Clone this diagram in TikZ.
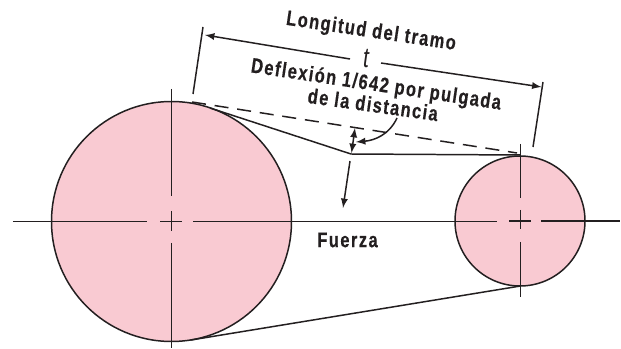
\documentclass[tikz,border=0pt]{standalone}
\usepackage{fontspec}
\setmainfont[FakeStretch=0.78,LetterSpace=7,BoldFeatures={FakeBold=0.4}]{Liberation Sans}
\newfontfamily\tfont[FakeStretch=0.75]{Liberation Sans}
\definecolor{polea}{HTML}{F9CAD2}
\definecolor{tinta}{HTML}{231F20}
\tikzset{
	linea/.style={line width=0.85pt,color=tinta},
	rotulo/.style={text=tinta,font=\bfseries\fontsize{12}{13}\selectfont,inner sep=0pt}
}

\begin{document}
\begin{tikzpicture}
	\useasboundingbox (0,0) rectangle (12.42,6.96);
	
	% poleas
	\node[shape=circle,linea,draw,fill=polea,inner sep=0pt,minimum size=4.8cm] (grande) at (3.43, 2.53) {};
	\node[shape=circle,linea,draw,fill=polea,inner sep=0pt,minimum size=2.6cm] (chica) at (10.40, 2.54) {};
	
	% textos
	\node[rotulo,rotate=-8.5] (longitud) at (7.42, 6.32) {Longitud del tramo};
	\node[shape=rectangle,text=tinta,font=\tfont\itshape\fontsize{16}{16}\selectfont,inner sep=0pt] (t) at (7.32, 5.78) {t};
	\node[rotulo,rotate=-8.5] (deflexion) at (7.52, 5.25) {Deflexión 1/642 por pulgada};
	\node[rotulo,rotate=-8] (distancia) at (7.46, 4.87) {de la distancia};
	\node[rotulo] (fuerza) at (6.95, 2.16) {Fuerza};
	
	% puntos de la correa y de las cotas
	\coordinate (ta) at (4.20, 4.80);
	\coordinate (vertice) at (7.02, 3.88);
	\coordinate (tb) at (10.40, 3.86);
	\coordinate (ba) at (3.82, 0.16);
	\coordinate (bb) at (10.41, 1.24);
	\coordinate (da) at (3.84, 4.92);
	\coordinate (db) at (10.34, 3.90);
	\coordinate (ca) at (4.10, 6.26);
	\coordinate (cb) at (7.00, 5.78);
	\coordinate (cc) at (7.62, 5.70);
	\coordinate (cd) at (10.83, 5.22);
	\coordinate (ea) at (4.06, 6.42);
	\coordinate (eb) at (3.86, 5.08);
	\coordinate (ec) at (10.86, 5.32);
	\coordinate (ed) at (10.66, 4.02);
	\coordinate (fa) at (7.03, 3.90);
	\coordinate (fb) at (7.10, 4.40);
	\coordinate (ga) at (7.00, 3.74);
	\coordinate (gb) at (6.86, 2.80);
	\coordinate (ha) at (7.94, 4.60);
	\coordinate (hb) at (7.12, 4.12);
	
	% correa
	\path[-, linea] (ta) edge (vertice);
	\path[-, linea] (vertice) edge (tb);
	\path[-, linea] (ba) edge (bb);
	\path[-, linea, dash pattern=on 8pt off 5pt] (da) edge (db);
	
	% cotas
	\path[-, linea] (ea) edge (eb);
	\path[-, linea] (ec) edge (ed);
	\path[->, >=latex, linea] (cb) edge (ca);
	\path[->, >=latex, linea] (cc) edge (cd);
	\path[<->, >=latex, linea] (fa) edge (fb);
	\path[->, >=latex, linea] (ga) edge (gb);
	\path[->, >=latex, linea] (ha) edge[out=-115, in=5] (hb);
	
	% ejes de la polea grande
	\coordinate (g1) at (0.26, 2.53);
	\coordinate (g2) at (2.94, 2.53);
	\coordinate (g3) at (3.20, 2.53);
	\coordinate (g4) at (3.64, 2.53);
	\coordinate (g5) at (3.86, 2.53);
	\coordinate (g6) at (9.94, 2.53);
	\coordinate (g7) at (3.43, 5.18);
	\coordinate (g8) at (3.43, 3.04);
	\coordinate (g9) at (3.43, 2.74);
	\coordinate (g10) at (3.43, 2.34);
	\coordinate (g11) at (3.43, 2.10);
	\coordinate (g12) at (3.43, 0.00);
	\path[-, linea] (g1) edge (g2);
	\path[-, linea] (g3) edge (g4);
	\path[-, linea] (g5) edge (g6);
	\path[-, linea] (g7) edge (g8);
	\path[-, linea] (g9) edge (g10);
	\path[-, linea] (g11) edge (g12);
	
	% ejes de la polea chica
	\coordinate (c1) at (10.18, 2.54);
	\coordinate (c2) at (10.62, 2.54);
	\coordinate (c3) at (10.82, 2.54);
	\coordinate (c4) at (12.40, 2.54);
	\coordinate (c5) at (10.41, 4.08);
	\coordinate (c6) at (10.41, 3.00);
	\coordinate (c7) at (10.41, 2.76);
	\coordinate (c8) at (10.41, 2.38);
	\coordinate (c9) at (10.41, 2.12);
	\coordinate (c10) at (10.41, 1.02);
	\path[-, linea] (c1) edge (c2);
	\path[-, linea] (c3) edge (c4);
	\path[-, linea] (c5) edge (c6);
	\path[-, linea] (c7) edge (c8);
	\path[-, linea] (c9) edge (c10);
	
\end{tikzpicture}
\end{document}
